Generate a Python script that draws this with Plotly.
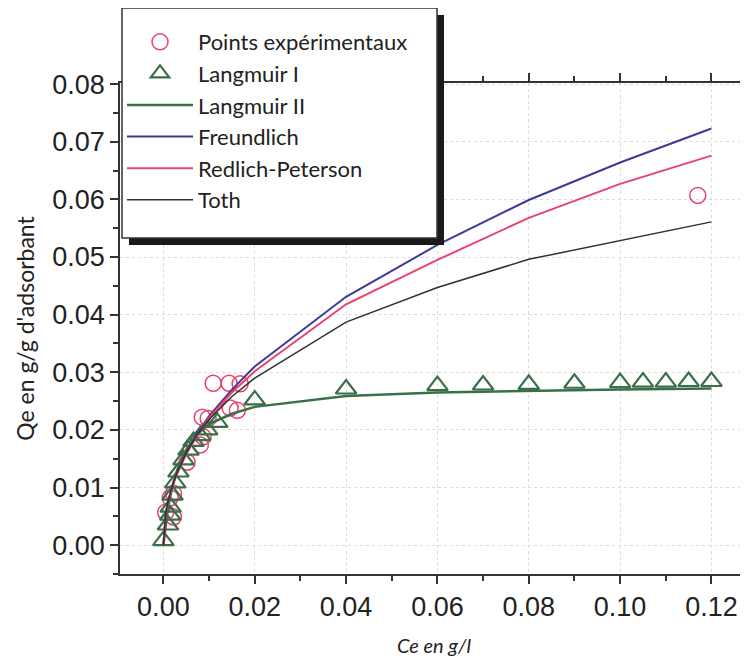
import plotly.graph_objects as go

# ---- data ----
exp_x = [0.0005, 0.0015, 0.0022, 0.0022, 0.0052, 0.0081, 0.0087, 0.0085, 0.0098,
         0.0109, 0.0144, 0.0168, 0.0146, 0.0162, 0.117]
exp_y = [0.0057, 0.0082, 0.0090, 0.0049, 0.0144, 0.0174, 0.0188, 0.0222, 0.0220,
         0.0281, 0.0281, 0.0280, 0.0238, 0.0234, 0.0607]

lang1_x = [0.0, 0.001, 0.0015, 0.0016, 0.002, 0.0026, 0.0033, 0.0044, 0.0055, 0.0066,
           0.0081, 0.0096, 0.0118, 0.02, 0.04, 0.06, 0.07, 0.08, 0.09, 0.10, 0.105,
           0.11, 0.115, 0.12]
lang1_y = [0.0008, 0.0035, 0.0052, 0.0066, 0.0087, 0.0108, 0.0127, 0.0148, 0.0165, 0.0180,
           0.0190, 0.0200, 0.0213, 0.0252, 0.0271, 0.0277, 0.0278, 0.0279, 0.0281, 0.0282,
           0.0283, 0.0283, 0.0284, 0.0284]

model_x = [0.0, 0.0005, 0.001, 0.002, 0.003, 0.005, 0.0075, 0.01, 0.015, 0.02,
           0.04, 0.06, 0.08, 0.10, 0.12]
lang2_y = [0.0, 0.0037, 0.0065, 0.0103, 0.0130, 0.0166, 0.0193, 0.0210, 0.0228, 0.0240,
           0.0259, 0.0265, 0.0268, 0.0270, 0.0272]
freund_y = [0.0, 0.0054, 0.0075, 0.0104, 0.0126, 0.0161, 0.0195, 0.0224, 0.0270, 0.0310,
            0.0431, 0.0521, 0.0599, 0.0664, 0.0723]
rp_y = [0.0, 0.0053, 0.0074, 0.0103, 0.0124, 0.0158, 0.0192, 0.0221, 0.0265, 0.0302,
        0.0418, 0.0495, 0.0568, 0.0627, 0.0676]
toth_y = [0.0, 0.0055, 0.0076, 0.0104, 0.0126, 0.0160, 0.0193, 0.0218, 0.0258, 0.0290,
          0.0387, 0.0447, 0.0496, 0.0529, 0.0561]

x_ticks = [0.00, 0.02, 0.04, 0.06, 0.08, 0.10, 0.12]
y_ticks = [0.00, 0.01, 0.02, 0.03, 0.04, 0.05, 0.06, 0.07, 0.08]

PINK = "#e8436c"
GREEN = "#3b6f47"
BLUE = "#3b3b98"
BLACK = "#303030"
LEG_FONT = "Lato"
NB = "\u00a0"

fig = go.Figure()
fig.add_trace(go.Scatter(x=exp_x, y=exp_y, mode="markers",
                         name="Points expérimentaux",
                         marker=dict(symbol="circle-open", size=16, color=PINK,
                                     line=dict(width=1.5, color=PINK))))
fig.add_trace(go.Scatter(x=lang1_x, y=lang1_y, mode="markers", name="Langmuir I",
                         marker=dict(symbol="triangle-up-open", size=18, color=GREEN,
                                     line=dict(width=2.2, color=GREEN))))
fig.add_trace(go.Scatter(x=model_x, y=lang2_y, mode="lines", name="Langmuir II",
                         line=dict(color=GREEN, width=2.5)))
fig.add_trace(go.Scatter(x=model_x, y=freund_y, mode="lines", name="Freundlich",
                         line=dict(color=BLUE, width=2)))
fig.add_trace(go.Scatter(x=model_x, y=rp_y, mode="lines", name="Redlich-Peterson",
                         line=dict(color=PINK, width=2)))
fig.add_trace(go.Scatter(x=model_x, y=toth_y, mode="lines", name="Toth",
                         line=dict(color=BLACK, width=1.5)))

axis_common = dict(
    showline=True, linecolor="#333", linewidth=1.5, mirror="ticks",
    ticks="outside", ticklen=8, tickwidth=1.5, tickcolor="#333",
    showgrid=True, gridcolor="#dcdcdc", griddash="dot", gridwidth=1,
    zeroline=False, automargin=False,
    tickfont=dict(family="Liberation Sans, Arial", size=27, color="#222"),
)

fig.update_xaxes(**axis_common, range=[-0.0095, 0.128], tickvals=x_ticks,
                 ticktext=[f"{v:.2f}" for v in x_ticks],
                 minor=dict(ticks="outside", ticklen=5, tickwidth=1.5, tickcolor="#333",
                            dtick=0.01, tick0=0, showgrid=False),
                 title=dict(text="<i>Ce en g/l</i>", standoff=18,
                            font=dict(family=LEG_FONT, size=20, color="#222")))
fig.update_yaxes(**axis_common, range=[-0.005, 0.0802], tickvals=y_ticks,
                 ticktext=[f"{v:.2f}" for v in y_ticks],
                 minor=dict(ticks="outside", ticklen=5, tickwidth=1.5, tickcolor="#333",
                            dtick=0.005, tick0=0, showgrid=False),
                 title=dict(text="Qe en g/g d'adsorbant", standoff=11,
                            font=dict(family=LEG_FONT, size=23, color="#222")))

# legend drop shadow and frame (paper coordinates)
fig.add_shape(type="rect", xref="paper", yref="paper",
              x0=0.0143, x1=0.5159, y0=0.6701, y1=1.1385,
              fillcolor="#1a1a1a", line=dict(width=0), layer="above")
fig.add_shape(type="rect", xref="paper", yref="paper",
              x0=0.0032, x1=0.5048, y0=0.6843, y1=1.1527,
              fillcolor="white", line=dict(width=1.5, color="#333"), layer="above")

# page body has an 8px margin, so the figure is sized/placed to compensate
fig.update_layout(
    width=740, height=656,
    margin=dict(l=112, r=0, t=75, b=90, autoexpand=False),
    paper_bgcolor="white", plot_bgcolor="white",
    legend=dict(x=0.0032, y=1.1527, xanchor="left", yanchor="top",
                bgcolor="rgba(0,0,0,0)", borderwidth=0,
                font=dict(family=LEG_FONT, size=22, color="#222"),
                itemwidth=66, traceorder="normal",
                title=dict(text=NB, font=dict(size=10))),
    showlegend=True,
)

fig.write_html("out.html")
